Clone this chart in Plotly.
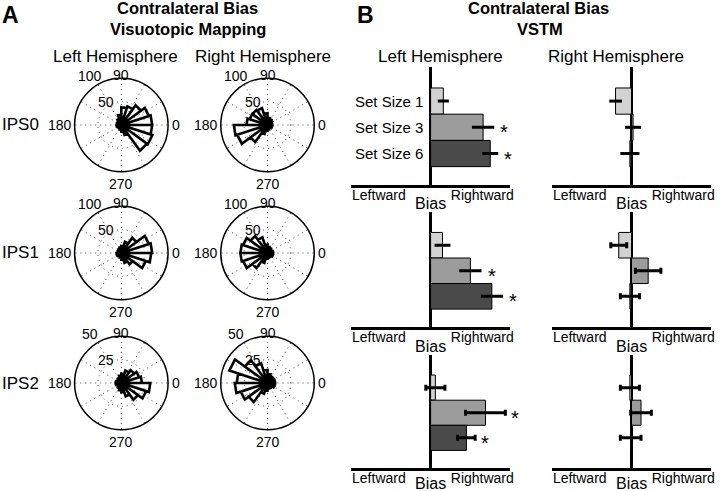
import math
import plotly.graph_objects as go

W, H = 720, 491
FONT = "Liberation Sans, Arial, sans-serif"

# ---------------- data ----------------
rows = ["IPS0", "IPS1", "IPS2"]
hemis = ["Left Hemisphere", "Right Hemisphere"]
bin_edges = list(range(0, 361, 18))          # 20 rose bins, degrees
grid_angles = list(range(0, 360, 30))
angle_ticks = [0, 90, 180, 270]
angle_labels = ["0", "90", "180", "270"]
rose_max = [100, 100, 50]

rose_ips0_lh = [66, 62, 52, 42, 38, 22, 14, 10, 8, 10, 10, 8, 8, 8, 10, 14, 22, 68, 70, 66]
rose_ips0_rh = [10, 10, 12, 14, 16, 25, 38, 40, 40, 45, 72, 68, 45, 20, 12, 10, 8, 8, 10, 10]
rose_ips1_lh = [66, 62, 40, 25, 15, 12, 10, 8, 8, 8, 10, 10, 8, 8, 10, 14, 22, 30, 55, 64]
rose_ips1_rh = [12, 10, 10, 12, 14, 18, 35, 45, 55, 58, 58, 55, 40, 22, 12, 10, 10, 10, 12, 12]
rose_ips2_lh = [22, 20, 17, 14, 10, 8, 6, 5, 5, 6, 6, 5, 5, 6, 8, 10, 15, 22, 28, 31]
rose_ips2_rh = [8, 8, 8, 8, 10, 14, 22, 30, 43, 33, 35, 30, 25, 12, 8, 6, 6, 6, 8, 8]
roses = [[rose_ips0_lh, rose_ips0_rh], [rose_ips1_lh, rose_ips1_rh], [rose_ips2_lh, rose_ips2_rh]]

set_sizes = ["Set Size 1", "Set Size 3", "Set Size 6"]
set_pos = [3, 2, 1]
bar_colors = ["#d2d2d2", "#9c9c9c", "#4a4a4a"]
bias_lh = [[0.16, 0.66, 0.75], [0.15, 0.50, 0.77], [0.06, 0.69, 0.45]]
err_lh = [[0.07, 0.14, 0.10], [0.10, 0.14, 0.14], [0.12, 0.25, 0.11]]
bias_rh = [[-0.20, 0.02, -0.02], [-0.16, 0.21, -0.02], [-0.02, 0.12, -0.01]]
err_rh = [[0.08, 0.10, 0.12], [0.10, 0.16, 0.12], [0.12, 0.13, 0.13]]
sig_lh = [[False, True, True], [False, True, True], [False, True, True]]
sig_rh = [[False, False, False], [False, False, False], [False, False, False]]
cap_lh = [0, 0, 3]
cap_rh = [0, 3, 3]
dir_ticks = [-0.65, 0.65]
dir_labels = ["Leftward", "Rightward"]

# ---------------- layout geometry (pixels) ----------------
polar_cx = [122, 269]
polar_cy = [125, 253, 383]
polar_r = 47
angle_label_dist = [55, 50, 62, 59]
rlabel_angle = 123
rlabel_pad = [4, 11]
bar_x = [[353, 513], [555, 715]]
bar_y = [[67, 185], [212, 327], [355, 468]]
bias_pad = [18, 19, 15]


def px_x(x):
    return x / W


def px_y(y):
    return 1 - y / H


fig = go.Figure()
layout = dict(
    width=W, height=H, margin=dict(l=0, r=0, t=0, b=0),
    paper_bgcolor="white", plot_bgcolor="white", showlegend=False,
    font=dict(family=FONT, color="black"),
)
annotations = []

k = 0
for ri in range(3):
    for hi in range(2):
        k += 1
        name = "polar" if k == 1 else f"polar{k}"
        counts = roses[ri][hi]
        r, th = [], []
        for i, c in enumerate(counts):
            a0, a1 = bin_edges[i], bin_edges[i + 1]
            r += [0, c, c, 0]
            th += [a0, a0, a1, a1]
        fig.add_trace(go.Scatterpolar(r=r, theta=th, mode="lines",
                                      line=dict(color="black", width=2.6),
                                      subplot=name, hoverinfo="skip"))
        cx, cy = polar_cx[hi], polar_cy[ri]
        rm = rose_max[ri]
        rticks = [rm // 2, rm]
        layout[name] = dict(
            domain=dict(x=[px_x(cx - polar_r), px_x(cx + polar_r)],
                        y=[px_y(cy + polar_r), px_y(cy - polar_r)]),
            bgcolor="white",
            angularaxis=dict(rotation=0, direction="counterclockwise",
                             tickmode="array", tickvals=grid_angles, showticklabels=False,
                             showline=True, linecolor="black", linewidth=1.5,
                             showgrid=True, gridcolor="#444", griddash="1px,4px", gridwidth=1,
                             ticks=""),
            radialaxis=dict(range=[0, rm], tickmode="array", tickvals=rticks,
                            showticklabels=False, angle=rlabel_angle,
                            showline=False, ticks="", showgrid=True, gridcolor="#444",
                            griddash="1px,4px", gridwidth=1),
        )
        # MATLAB-style angle labels just outside the circle
        for a, lab, d in zip(angle_ticks, angle_labels, angle_label_dist):
            ang = math.radians(a)
            annotations.append(dict(x=px_x(cx + d * math.cos(ang)),
                                    y=px_y(cy - d * math.sin(ang)),
                                    text=lab, font=dict(size=14)))
        # radial tick labels beside the grid circles
        for t, pad in zip(rticks, rlabel_pad):
            d = t / rm * polar_r + pad
            ang = math.radians(rlabel_angle)
            annotations.append(dict(x=px_x(cx + d * math.cos(ang)),
                                    y=px_y(cy - d * math.sin(ang)),
                                    text=str(t), font=dict(size=14)))

# bar panels
k = 0
for ri in range(3):
    for hi in range(2):
        k += 1
        xa = "x" if k == 1 else f"x{k}"
        ya = "y" if k == 1 else f"y{k}"
        vals = bias_lh[ri] if hi == 0 else bias_rh[ri]
        errs = err_lh[ri] if hi == 0 else err_rh[ri]
        sigs = sig_lh[ri] if hi == 0 else sig_rh[ri]
        cap = cap_lh[ri] if hi == 0 else cap_rh[ri]
        fig.add_trace(go.Bar(x=vals, y=set_pos, orientation="h", width=1,
                             marker=dict(color=bar_colors, line=dict(color="black", width=1)),
                             error_x=dict(type="data", array=errs, color="black",
                                          thickness=3, width=cap),
                             xaxis=xa, yaxis=ya, hoverinfo="skip"))
        y0, y1 = bar_y[ri]
        x0, x1 = bar_x[hi]
        layout["xaxis" if k == 1 else f"xaxis{k}"] = dict(
            domain=[px_x(x0), px_x(x1)], range=[-1, 1], anchor=ya,
            showline=True, linecolor="black", linewidth=3,
            zeroline=True, zerolinecolor="black", zerolinewidth=3,
            showgrid=False, ticks="", tickmode="array", tickvals=dir_ticks,
            ticktext=dir_labels, tickfont=dict(size=14, color="black"),
            ticklabelstandoff=-5, fixedrange=True)
        layout["yaxis" if k == 1 else f"yaxis{k}"] = dict(
            domain=[px_y(y1), px_y(y0)], range=[-0.2, 4.3], anchor=xa,
            showline=False, zeroline=False, showgrid=False, showticklabels=False,
            fixedrange=True)
        annotations.append(dict(x=0, xref=xa, y=px_y(y1 + bias_pad[ri]), yref="paper",
                                text="Bias", showarrow=False, font=dict(size=16),
                                xanchor="center", yanchor="middle"))
        for v, e, s, p in zip(vals, errs, sigs, set_pos):
            if s:
                annotations.append(dict(x=v + e, xref=xa, y=p, yref=ya, text="*",
                                        showarrow=False, font=dict(size=20),
                                        xanchor="left", yanchor="middle", xshift=4, yshift=-5))
        if k == 1:
            for lab, p in zip(set_sizes, set_pos):
                annotations.append(dict(x=0, xref=xa, y=p, yref=ya, text=lab,
                                        showarrow=False, font=dict(size=15),
                                        xanchor="right", yanchor="middle", xshift=-6))

# texts
annotations += [
    dict(x=px_x(11), y=px_y(15), text="<b>A</b>", font=dict(size=23)),
    dict(x=px_x(368), y=px_y(15), text="<b>B</b>", font=dict(size=23)),
    dict(x=px_x(189), y=px_y(8), text="<b>Contralateral Bias</b>", font=dict(size=16.5)),
    dict(x=px_x(189), y=px_y(29), text="<b>Visuotopic Mapping</b>", font=dict(size=16.5)),
    dict(x=px_x(542), y=px_y(8), text="<b>Contralateral Bias</b>", font=dict(size=16.5)),
    dict(x=px_x(543), y=px_y(29), text="<b>VSTM</b>", font=dict(size=16.5)),
    dict(x=px_x(116), y=px_y(56), text=hemis[0], font=dict(size=17)),
    dict(x=px_x(264), y=px_y(56), text=hemis[1], font=dict(size=17)),
    dict(x=px_x(443), y=px_y(56), text=hemis[0], font=dict(size=17)),
    dict(x=px_x(619), y=px_y(56), text=hemis[1], font=dict(size=17)),
]
for ri, lab in enumerate(rows):
    annotations.append(dict(x=0, y=px_y(polar_cy[ri]), text=lab, font=dict(size=17),
                            xanchor="left"))
for a in annotations:
    a.setdefault("xref", "paper")
    a.setdefault("yref", "paper")
    a.setdefault("showarrow", False)
    a.setdefault("xanchor", "center")
    a.setdefault("yanchor", "middle")

layout["annotations"] = annotations
fig.update_layout(**layout)
fig.write_html("out.html", config={"displayModeBar": False, "staticPlot": True},
               post_script="document.body.style.margin='0';")
